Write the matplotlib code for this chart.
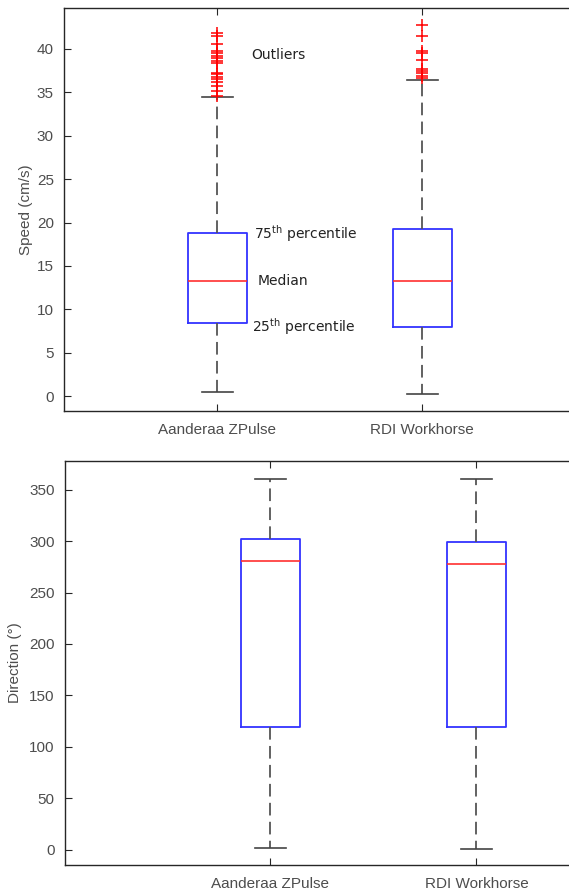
import matplotlib.pyplot as plt

# instrument names
labels = ['Aanderaa ZPulse', 'RDI Workhorse']

# speed (cm/s) box statistics
speed_q1 = [8.4, 8.0]
speed_med = [13.3, 13.3]
speed_q3 = [18.75, 19.3]
speed_lo = [0.5, 0.3]
speed_hi = [34.4, 36.4]
speed_out_a = [41.8, 41.5, 40.6, 39.7, 39.5, 39.2, 38.9, 38.65, 38.4,
                37.25, 37.05, 36.8, 36.5, 36.2, 35.7, 35.1, 34.6]
speed_out_r = [42.7, 41.5, 39.7, 39.5, 38.75, 37.7, 37.4, 37.2, 36.9, 36.6]

# direction (deg) box statistics
dir_q1 = [119, 119]
dir_med = [281, 278]
dir_q3 = [302, 299]
dir_lo = [2, 1]
dir_hi = [360, 360]

W, H = 569, 894
fig = plt.figure(figsize=(W / 100, H / 100), dpi=100)
plt.rcParams['font.family'] = ['Liberation Sans', 'DejaVu Sans']

tick_col = '#4d4d4d'
spine_col = '#262626'


def make_stats(q1, med, q3, lo, hi, fl):
    out = []
    for i in range(len(q1)):
        out.append(dict(q1=q1[i], med=med[i], q3=q3[i], whislo=lo[i],
                        whishi=hi[i], fliers=fl[i], label=labels[i]))
    return out


def draw(ax, stats):
    ax.bxp(stats, positions=[1, 2], widths=0.29, capwidths=0.15,
           boxprops=dict(color='#3333ff', lw=1.3),
           medianprops=dict(color='#ff3030', lw=1.2),
           whiskerprops=dict(color='#555555', lw=1.3, ls=(0, (7, 3.5))),
           capprops=dict(color='#444444', lw=1.2),
           flierprops=dict(marker='+', markeredgecolor='red', markersize=8,
                           markeredgewidth=1.1, ls='none'))
    for s in ax.spines.values():
        s.set_color(spine_col)
        s.set_linewidth(1.0)
    ax.tick_params(direction='in', length=5, width=0.8, color=spine_col,
                   labelcolor=tick_col, labelsize=11, top=True, right=True)
    ax.tick_params(axis='y', pad=7)
    ax.tick_params(axis='x', pad=9)


# top panel: speed
ax1 = fig.add_axes([63.5 / W, (H - 411) / H, 512.5 / W, 403 / H])
draw(ax1, make_stats(speed_q1, speed_med, speed_q3, speed_lo, speed_hi,
                     [speed_out_a, speed_out_r]))
ax1.set_xlim(0.25, 2.75)
ax1.set_ylim(-1.7, 44.7)
ax1.set_yticks(range(0, 41, 5))
ax1.set_ylabel('Speed (cm/s)', fontsize=11, color=tick_col, labelpad=3)

afont = dict(fontsize=10, color='#222222', family=['DejaVu Sans'], va='center')
ax1.text(1.165, 39.25, 'Outliers', **afont)
ax1.text(1.18, 18.75, r'75$^{\rm th}$ percentile', **afont)
ax1.text(1.195, 13.3, 'Median', **afont)
ax1.text(1.17, 8.0, r'25$^{\rm th}$ percentile', **afont)

# bottom panel: direction
ax2 = fig.add_axes([64.5 / W, (H - 865) / H, 618 / W, 404 / H])
draw(ax2, make_stats(dir_q1, dir_med, dir_q3, dir_lo, dir_hi, [[], []]))
ax2.set_xlim(0, 3)
ax2.set_ylim(-14.6, 377.7)
ax2.set_yticks(range(0, 351, 50))
ax2.set_ylabel('Direction (°)', fontsize=11, color=tick_col, labelpad=5)

fig.savefig('out.png', dpi=100)
